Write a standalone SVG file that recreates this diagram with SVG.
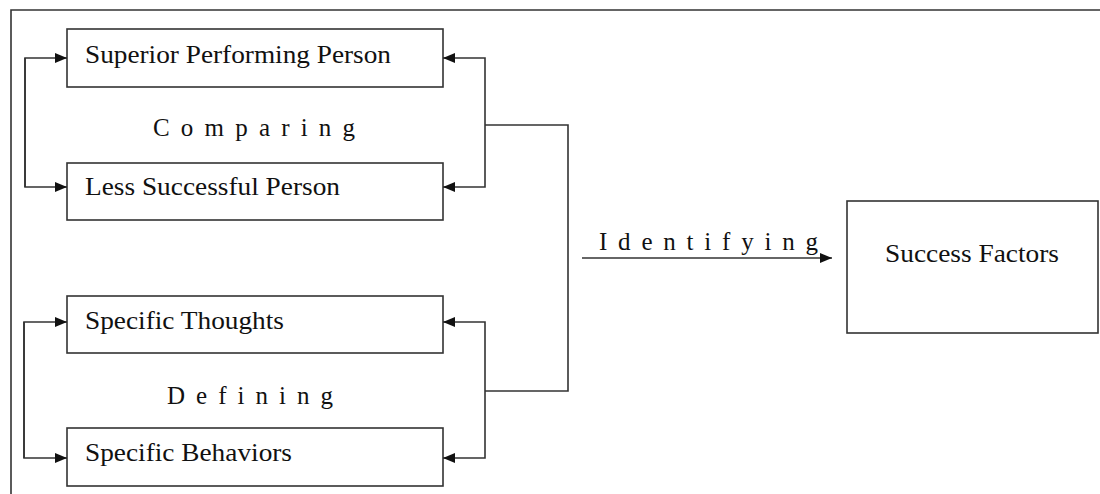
<svg xmlns="http://www.w3.org/2000/svg" width="1100" height="494" viewBox="0 0 1100 494">
  <defs>
    <marker id="arrow" viewBox="0 0 12 10" refX="12" refY="5" markerWidth="12" markerHeight="10" markerUnits="userSpaceOnUse" orient="auto">
      <path d="M0,0 L12,5 L0,10 Z" fill="#111"/>
    </marker>
    <style>
      .box { fill: #fff; stroke: #333; stroke-width: 1.6; }
      .line { fill: none; stroke: #333; stroke-width: 1.6; }
      .arr { fill: none; stroke: #333; stroke-width: 1.6; marker-end: url(#arrow); }
      .lbl { font-family: "Liberation Serif", "Times New Roman", serif; font-size: 26px; fill: #111; }
      .sp { font-family: "Liberation Serif", "Times New Roman", serif; font-size: 25px; fill: #111; }
    </style>
  </defs>
  <rect width="1100" height="494" fill="#fff"/>

  <!-- outer frame (top and left edges) -->
  <path class="line" d="M11,494 V10 H1100"/>

  <g id="superior-performing-person">
    <rect class="box" x="67" y="29" width="376" height="58"/>
    <text class="lbl" x="85" y="63" textLength="306" lengthAdjust="spacingAndGlyphs">Superior Performing Person</text>
  </g>
  <g id="less-successful-person">
    <rect class="box" x="67" y="163" width="376" height="57"/>
    <text class="lbl" x="85" y="195" textLength="255" lengthAdjust="spacingAndGlyphs">Less Successful Person</text>
  </g>
  <g id="specific-thoughts">
    <rect class="box" x="67" y="296" width="376" height="57"/>
    <text class="lbl" x="85" y="329" textLength="199" lengthAdjust="spacingAndGlyphs">Specific Thoughts</text>
  </g>
  <g id="specific-behaviors">
    <rect class="box" x="67" y="428" width="376" height="58"/>
    <text class="lbl" x="85" y="461" textLength="207" lengthAdjust="spacingAndGlyphs">Specific Behaviors</text>
  </g>
  <g id="success-factors">
    <rect class="box" x="847" y="201" width="251" height="132"/>
    <text class="lbl" x="885" y="262" textLength="174" lengthAdjust="spacingAndGlyphs">Success Factors</text>
  </g>

  <g id="labels">
    <text class="sp" x="153" y="136" textLength="202" lengthAdjust="spacing">Comparing</text>
    <text class="sp" x="167" y="404" textLength="166" lengthAdjust="spacing">Defining</text>
    <text class="sp" x="599" y="250" textLength="219" lengthAdjust="spacing">Identifying</text>
  </g>

  <g id="connectors">
    <!-- comparing loop, left side -->
    <path class="arr" d="M25,187 V58 H67"/>
    <path class="arr" d="M25,58 V187 H67"/>
    <!-- comparing loop, right side -->
    <path class="arr" d="M485,125 V58 H443"/>
    <path class="arr" d="M485,125 V187 H443"/>
    <!-- defining loop, left side -->
    <path class="arr" d="M24,458 V322 H67"/>
    <path class="arr" d="M24,322 V458 H67"/>
    <!-- defining loop, right side -->
    <path class="arr" d="M485,391 V322 H443"/>
    <path class="arr" d="M485,391 V458 H443"/>
    <!-- bracket joining both loops -->
    <path class="line" d="M485,125 H568 V391 H485"/>
    <!-- identifying -->
    <path class="arr" d="M582,258 H832"/>
  </g>
</svg>
